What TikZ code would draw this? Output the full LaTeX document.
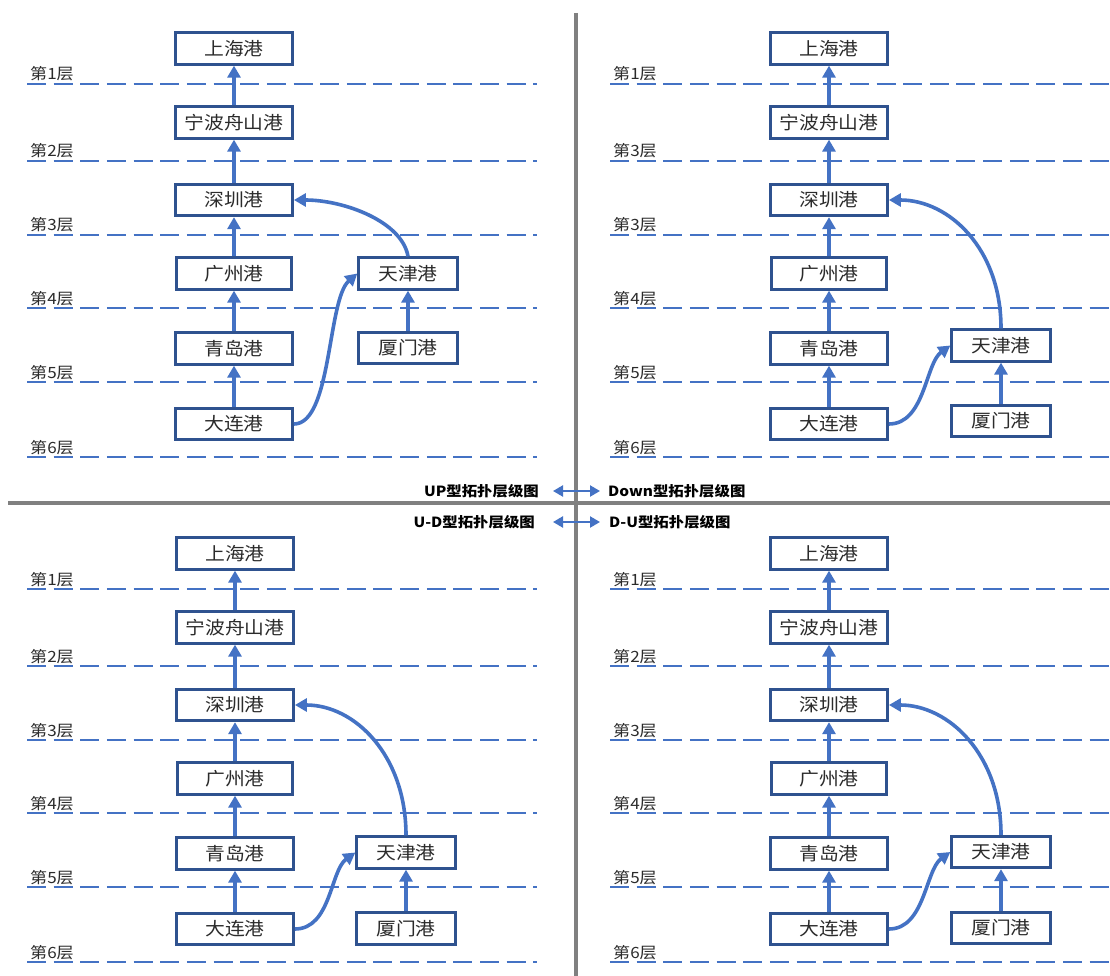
\documentclass[tikz,border=0pt]{standalone}
\usepackage{fontspec}
\newfontfamily\cjk[FakeStretch=1.1]{Noto Sans CJK SC}
\usetikzlibrary{arrows.meta}

\definecolor{boxline}{HTML}{2F528F}
\definecolor{flow}{HTML}{4472C4}
\definecolor{divider}{HTML}{808080}
\definecolor{ink}{HTML}{2B2B2B}

\tikzset{
  port/.style={draw=boxline, line width=2.8pt, fill=white, minimum width=117pt,
    minimum height=31.5pt, inner sep=0pt, text=ink, font=\cjk\fontsize{18}{18}\selectfont},
  portR/.style={port, minimum width=98.5pt},
  layer/.style={draw=flow, line width=2.8pt, dash pattern=on 19pt off 7.65pt},
  layertag/.style={anchor=base west, inner sep=0pt, text=ink, font=\cjk\fontsize{15.5}{15.5}\selectfont},
  link/.style={draw=flow, line width=3.6pt, -{Triangle[width=13pt,length=12pt]}},
  caption/.style={inner sep=0pt, text=black, font=\cjk\bfseries\fontsize{14}{14}\selectfont},
  pairlink/.style={draw=flow, line width=2.2pt,
    {Triangle[width=11pt,length=10pt]}-{Triangle[width=11pt,length=10pt]}},
  rule/.style={draw=divider, line width=4.5pt},
}

% #1 prefix, #2/#3 panel shift, #4/#5 layer line start/end (absolute x),
% #6 number printed on the second layer, #7 x of right column,
% #8 y of Tianjin, #9 y of Xiamen
\newcommand{\drawpanel}[9]{%
  \begin{scope}[shift={(#2,#3)}]
    \foreach \yy/\lab [count=\k] in {84/1, 161/#6, 235/3, 308/4, 382/5, 457/6} {
      \draw[layer] (#4-#2,\yy) -- (#5-#2,\yy);
      \node[layertag] (#1-tag\k) at (#4-#2+3,\yy-4) {第\lab 层};
    }
    \node[port] (#1-shanghai) at (234,48.5) {上海港};
    \node[port] (#1-ningbo) at (234,122.5) {宁波舟山港};
    \node[port] (#1-shenzhen) at (234,200) {深圳港};
    \node[port, minimum width=114.5pt] (#1-guangzhou) at (234,273.5) {广州港};
    \node[port] (#1-qingdao) at (234,348.5) {青岛港};
    \node[port] (#1-dalian) at (234,424) {大连港};
    \node[portR] (#1-tianjin) at (#7,#8) {天津港};
    \node[portR] (#1-xiamen) at (#7,#9) {厦门港};
    \draw[link] (#1-ningbo) -- (#1-shanghai);
    \draw[link] (#1-shenzhen) -- (#1-ningbo);
    \draw[link] (#1-guangzhou) -- (#1-shenzhen);
    \draw[link] (#1-qingdao) -- (#1-guangzhou);
    \draw[link] (#1-dalian) -- (#1-qingdao);
    \draw[link] (#1-xiamen) -- (#1-tianjin);
  \end{scope}}

\begin{document}
\begin{tikzpicture}[x=1pt, y=-1pt]
  \fill[white] (0,0) rectangle (1110,976);
  \useasboundingbox (0,0) rectangle (1110,976);

  % quadrant dividers
  \draw[rule] (576,13) -- (576,976);
  \draw[rule] (8,503) -- (1110,503);

  % the four layer diagrams
  \drawpanel{tl}{0}{0}{27}{537}{2}{408}{273.5}{348}
  \drawpanel{tr}{595}{0}{610}{1110}{3}{406}{345.5}{421}
  \drawpanel{bl}{1}{505}{27}{537}{2}{405}{347.5}{423.5}
  \drawpanel{br}{595}{505}{610}{1110}{2}{406}{347}{423}

  % cross-column links
  \draw[link] (tl-dalian.east) .. controls +(38,0) and +(-30,26) .. (tl-tianjin.west);
  \draw[link] (tl-tianjin.north) .. controls +(-6,-35) and +(50,0) .. (tl-shenzhen.east);
  \foreach \p in {tr, bl, br} {
    \draw[link] (\p-dalian.east) .. controls +(36,0) and +(-25,18) .. (\p-tianjin.west);
    \draw[link] (\p-tianjin.north) .. controls +(0,-80) and +(60,0) .. (\p-shenzhen.east);
  }

  % panel captions
  \node[caption, anchor=east] (capUP) at (539,491) {UP型拓扑层级图};
  \node[caption, anchor=west] (capDown) at (608,491) {Down型拓扑层级图};
  \node[caption, anchor=east] (capUD) at (535,522) {U-D型拓扑层级图};
  \node[caption, anchor=west] (capDU) at (609,522) {D-U型拓扑层级图};
  \draw[pairlink] ([xshift=14pt]capUP.east) -- ([xshift=-8pt]capDown.west);
  \draw[pairlink] ([xshift=18pt]capUD.east) -- ([xshift=-9pt]capDU.west);
\end{tikzpicture}
\end{document}
